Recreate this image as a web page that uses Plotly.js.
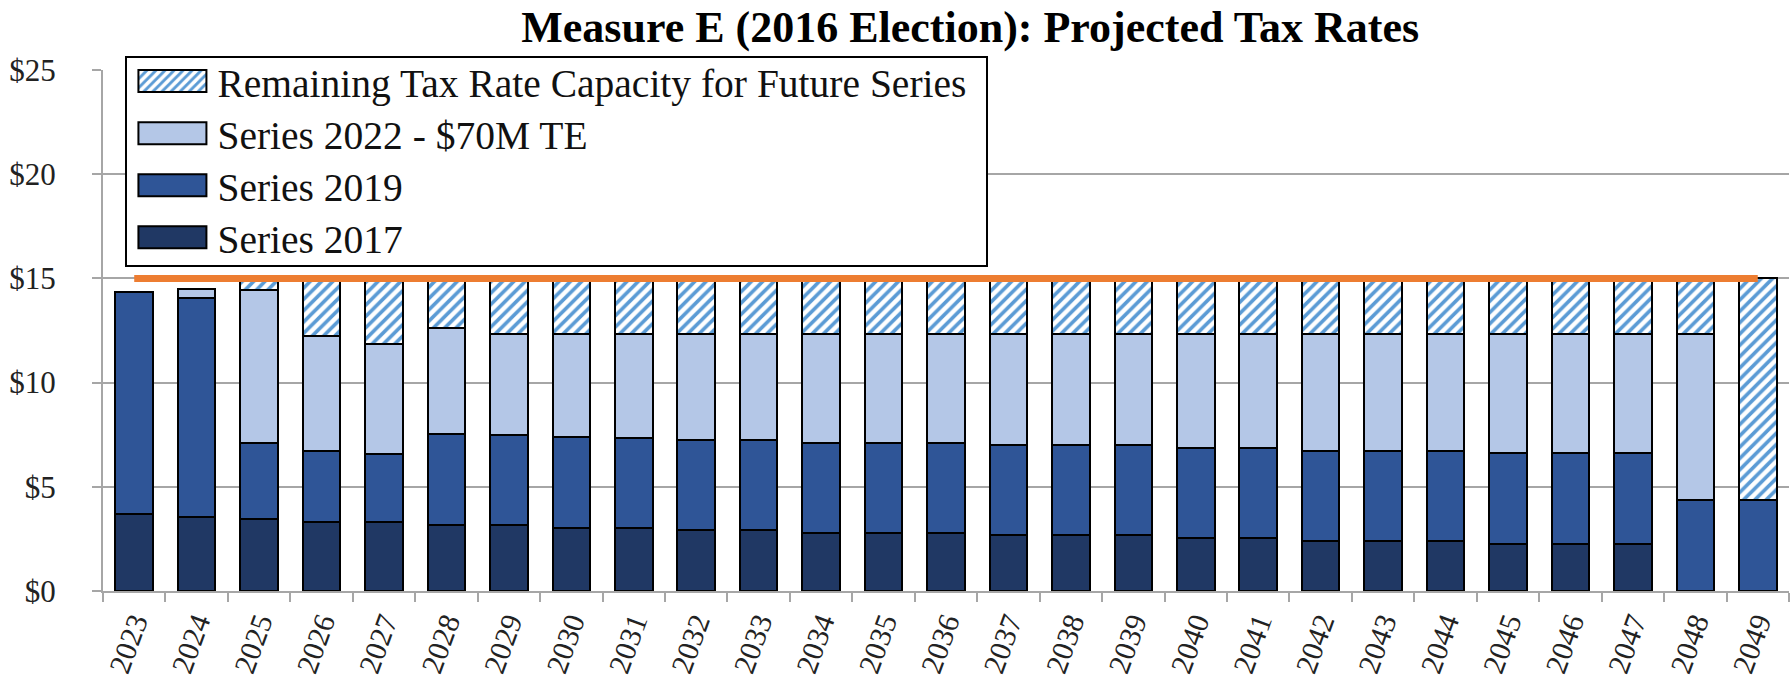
<!DOCTYPE html>
<html>
<head>
<meta charset="utf-8">
<script src="https://cdn.plot.ly/plotly-3.0.1.min.js"></script>
<style>
  html, body { margin: 0; padding: 0; background: #ffffff; }
  #chart { width: 1790px; height: 688px; }
</style>
</head>
<body>
<div id="chart"></div>
<script>
// ---- Data ----
const years = ['2023','2024','2025','2026','2027','2028','2029','2030','2031','2032','2033','2034','2035','2036','2037','2038','2039','2040','2041','2042','2043','2044','2045','2046','2047','2048','2049'];

const series2017 = [3.69,3.57,3.44,3.30,3.30,3.17,3.17,3.04,3.04,2.93,2.93,2.80,2.80,2.80,2.67,2.67,2.67,2.53,2.53,2.40,2.40,2.40,2.26,2.26,2.26,null,null];

const series2019 = [10.67,10.50,3.68,3.42,3.26,4.36,4.31,4.33,4.32,4.32,4.32,4.32,4.32,4.32,4.34,4.34,4.34,4.32,4.32,4.33,4.33,4.33,4.35,4.35,4.35,4.37,4.37];

const series2022 = [null,0.40,7.32,5.52,5.28,5.07,4.85,4.96,4.97,5.08,5.08,5.21,5.21,5.21,5.32,5.32,5.32,5.48,5.48,5.60,5.60,5.60,5.72,5.72,5.72,7.96,null];

const remainingCapacity = [null,null,0.56,2.76,3.16,2.40,2.67,2.67,2.67,2.67,2.67,2.67,2.67,2.67,2.67,2.67,2.67,2.67,2.67,2.67,2.67,2.67,2.67,2.67,2.67,2.67,10.63];

const taxRateLimit = [15,15,15,15,15,15,15,15,15,15,15,15,15,15,15,15,15,15,15,15,15,15,15,15,15,15,15];

const yTickValues = [0,5,10,15,20,25];
const yTickLabels = ['$0','$5','$10','$15','$20','$25'];

const seriesNames = ['Series 2017','Series 2019','Series 2022 - $70M TE','Remaining Tax Rate Capacity for Future Series'];
const chartTitle = 'Measure E (2016 Election): Projected Tax Rates';

// ---- Styles ----
const FONT = 'Liberation Serif, Times New Roman, serif';
const outline = { color: '#000000', width: 2 };
const gridGray = '#A6A6A6';

const traces = [
  { type: 'bar', name: seriesNames[0], x: years, y: series2017,
    marker: { color: '#203864', line: outline }, hoverinfo: 'skip' },
  { type: 'bar', name: seriesNames[1], x: years, y: series2019,
    marker: { color: '#2F5597', line: outline }, hoverinfo: 'skip' },
  { type: 'bar', name: seriesNames[2], x: years, y: series2022,
    marker: { color: '#B4C7E7', line: outline }, hoverinfo: 'skip' },
  { type: 'bar', name: seriesNames[3], x: years, y: remainingCapacity,
    marker: { color: '#FFFFFF', line: outline,
      pattern: { shape: '/', fgcolor: '#5B9BD5', bgcolor: '#FFFFFF', size: 8, solidity: 0.45 } },
    hoverinfo: 'skip' },
  { type: 'scatter', mode: 'lines', name: 'Limit', x: years, y: taxRateLimit,
    line: { color: '#ED7D31', width: 7 }, showlegend: false, hoverinfo: 'skip' }
];

const layout = {
  width: 1790, height: 688,
  paper_bgcolor: '#ffffff', plot_bgcolor: '#ffffff',
  margin: { l: 103, r: 1, t: 70, b: 97 },
  barmode: 'stack', bargap: 0.4,
  title: { text: '<b>' + chartTitle + '</b>', x: 0.542, xref: 'container', xanchor: 'center',
           y: 0.961, yref: 'container', yanchor: 'middle',
           font: { family: FONT, size: 44, color: '#000000' } },
  xaxis: { type: 'category', showgrid: false, showline: true, linecolor: gridGray, linewidth: 2,
           ticks: 'outside', tickson: 'boundaries', ticklen: 9, tickwidth: 2, tickcolor: gridGray,
           tickangle: -70, tickfont: { family: FONT, size: 30, color: '#222222' }, zeroline: false,
           fixedrange: true },
  yaxis: { range: [0, 25], tickvals: yTickValues, ticktext: yTickLabels,
           showgrid: true, gridcolor: gridGray, gridwidth: 2,
           showline: true, linecolor: gridGray, linewidth: 2,
           ticks: 'outside', ticklen: 9, tickwidth: 2, tickcolor: gridGray,
           ticklabelstandoff: 30,
           tickfont: { family: FONT, size: 31, color: '#222222' }, zeroline: false, fixedrange: true },
  legend: { x: 0.0133, y: 1.027, xanchor: 'left', yanchor: 'top', xref: 'paper', yref: 'paper',
            bgcolor: '#ffffff', bordercolor: '#000000', borderwidth: 2,
            font: { family: FONT, size: 39.5, color: '#111111' },
            traceorder: 'reversed', itemwidth: 80, tracegroupgap: 0 },
  showlegend: true
};

Plotly.newPlot('chart', traces, layout, { staticPlot: true, displayModeBar: false }).then(function () {
  // enlarge legend swatches to Excel-like wide boxes
  document.querySelectorAll('#chart .legend .traces .legendpoints path').forEach(function (p) {
    p.setAttribute('d', 'M34,11H-34V-11H34Z');
  });
  const leg = document.querySelector('#chart .legend');
  if (!leg) return;
  // tighten legend row spacing slightly
  const items = Array.from(leg.querySelectorAll('.traces'));
  const re = /translate\(([-\d.]+)[ ,]+([-\d.]+)\)/;
  let firstY = null;
  items.forEach(function (g) {
    const m = re.exec(g.getAttribute('transform') || '');
    if (!m) return;
    const ty = parseFloat(m[2]);
    if (firstY === null) firstY = ty;
    const ny = firstY + (ty - firstY) * 0.958;
    g.setAttribute('transform', 'translate(' + m[1] + ',' + ny + ')');
  });
  // shift legend up and trim the box padding
  const m = re.exec(leg.getAttribute('transform') || '');
  if (m) leg.setAttribute('transform', 'translate(' + m[1] + ',' + (parseFloat(m[2]) - 9) + ')');
  const bg = leg.querySelector('rect.bg');
  if (bg) {
    const y0 = parseFloat(bg.getAttribute('y') || 0);
    const h0 = parseFloat(bg.getAttribute('height') || 0);
    const w0 = parseFloat(bg.getAttribute('width') || 0);
    bg.setAttribute('y', y0 + 8.7);
    bg.setAttribute('height', h0 - 21);
    bg.setAttribute('width', w0 + 14);
  }
});
</script>
</body>
</html>
